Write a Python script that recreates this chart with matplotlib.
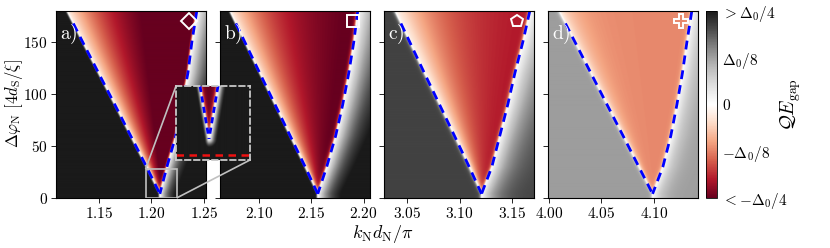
import numpy as np
import matplotlib
matplotlib.use("Agg")
import matplotlib.pyplot as plt
from mpl_toolkits.axes_grid1.inset_locator import mark_inset

plt.rcParams['mathtext.fontset'] = 'cm'
plt.rcParams['font.family'] = 'serif'
plt.rcParams['axes.linewidth'] = 0.8

# heights (in 4d_S/xi) at which the gap-closing edges were read
edge_y = [180, 150, 120, 90, 60, 30, 4]

# left / right edge of the topological (red) wedge, per panel
left_a = [1.1195, 1.1345, 1.1497, 1.1650, 1.1801, 1.1953, 1.2080]
right_a = [1.2432, 1.2385, 1.2347, 1.2290, 1.2232, 1.2147, 1.2080]
left_b = [2.0724, 2.0867, 2.1010, 2.1154, 2.1298, 2.1442, 2.1562]
right_b = [2.1943, 2.1905, 2.1857, 2.1800, 2.1733, 2.1647, 2.1562]
left_c = [3.0385, 3.0526, 3.0666, 3.0809, 3.0951, 3.1092, 3.1210]
right_c = [3.1670, 3.1603, 3.1527, 3.1460, 3.1384, 3.1308, 3.1210]
left_d = [4.0095, 4.0248, 4.0400, 4.0552, 4.0705, 4.0856, 4.0987]
right_d = [4.1361, 4.1314, 4.1271, 4.1219, 4.1161, 4.1085, 4.0987]

x_ranges = [(1.109, 1.252), (2.063, 2.206), (3.028, 3.171), (3.999, 4.142)]
x_ticks = [[1.15, 1.20, 1.25], [2.10, 2.15, 2.20], [3.05, 3.10, 3.15], [4.00, 4.05, 4.10]]

# gap levels (units of Delta_0)
bg_gap = [0.30, 0.30, 0.21, 0.128]        # trivial region far from the wedge
near_gap = [-0.03, -0.03, -0.015, -0.03]  # just inside the left edge
far_gap = [-0.32, -0.27, -0.21, -0.12]    # deep inside the wedge
fade_len = [0.05, 0.045, 0.042, 0.015]    # how fast it darkens from the left edge
glow_top = [0.021, 0.028, 0.026, 0.012]   # width of the white glow right of the wedge (top)
glow_bot = [0.008, 0.012, 0.012, 0.008]   # same at the bottom

labels = ['a)', 'b)', 'c)', 'd)']
markers = ['D', 's', 'p', 'P']
marker_size = [8, 8, 9, 10]

# zoomed inset of panel a
inset_xlim = (1.1944, 1.224)
inset_ylim = (0, 28)
inset_y = [28, 8]
inset_left = [1.2040, 1.2076]
inset_right = [1.2112, 1.2076]
inset_cut = 2.0

cbar_ticks = [-0.25, -0.125, 0, 0.125, 0.25]
cbar_labels = [r'$<-\Delta_0/4$', r'$-\Delta_0/8$', r'$0$', r'$\Delta_0/8$', r'$>\Delta_0/4$']


def gap_map(xlim, xl_pts, xr_pts, bg, near, far, fade, wtop, wbot, nx=450, ny=380):
    x = np.linspace(xlim[0], xlim[1], nx)
    y = np.linspace(0, 180, ny)
    X, Y = np.meshgrid(x, y)
    ys = edge_y[::-1]
    xl = np.interp(Y, ys, xl_pts[::-1])
    xr = np.interp(Y, ys, xr_pts[::-1])
    g = np.clip(Y / 180, 0.03, 1)
    seam = 0.0012
    d_in = np.clip(X - xl, 0, None)
    d_out_r = np.clip(X - xr, 0, None)
    d_out_l = np.clip(xl - X, 0, None)
    L = fade * g
    v_in = near + (far - near) * (1 - np.exp(-d_in / L))
    v_in *= (1 - np.exp(-d_in / seam)) * (1 - np.exp(-np.clip(xr - X, 0, None) / seam))
    v_left = bg * (1 - np.exp(-d_out_l / seam))
    wr = wbot + (wtop - wbot) * g
    v_right = bg * (1 - np.exp(-d_out_r / wr))
    return np.where(X < xl, v_left, np.where(X <= xr, v_in, v_right))


def inset_map(nx=300, ny=300):
    x = np.linspace(inset_xlim[0], inset_xlim[1], nx)
    y = np.linspace(inset_ylim[0], inset_ylim[1], ny)
    X, Y = np.meshgrid(x, y)
    xl = np.interp(Y, inset_y[::-1], inset_left[::-1])
    xr = np.interp(Y, inset_y[::-1], inset_right[::-1])
    dl = np.clip(xl - X, 0, None) / 0.0012
    dr = np.clip(X - xr, 0, None) / 0.0022
    dy = np.clip(inset_y[1] - Y, 0, None) / 2.2
    r = np.sqrt(dl ** 2 + dr ** 2 + dy ** 2)
    v_out = 0.3 * (1 - np.exp(-r ** 1.5))
    d_in = np.minimum(X - xl, xr - X)
    v_in = -0.25 * (1 - np.exp(-np.clip(d_in, 0, None) / 0.0006))
    inside = (X > xl) & (X < xr) & (Y > inset_y[1])
    return np.where(inside, v_in, v_out)


fig = plt.figure(figsize=(8.3, 2.48), dpi=100)
W, H = 830, 248
panel_left = [56, 220, 384, 548]
bottom = (H - 198) / H
height = 187 / H

lefts = [left_a, left_b, left_c, left_d]
rights = [right_a, right_b, right_c, right_d]
axes = []
for i in range(4):
    ax = fig.add_axes([panel_left[i] / W, bottom, 150 / W, height])
    Z = gap_map(x_ranges[i], lefts[i], rights[i], bg_gap[i], near_gap[i],
                far_gap[i], fade_len[i], glow_top[i], glow_bot[i])
    im = ax.imshow(Z, extent=[x_ranges[i][0], x_ranges[i][1], 0, 180], origin='lower',
                   aspect='auto', cmap='RdGy', vmin=-0.25, vmax=0.25, interpolation='bilinear')
    # edges of the topological region
    top_l = np.interp(168, edge_y[::-1], lefts[i][::-1])
    ax.plot([top_l] + lefts[i][1:], [168] + edge_y[1:], color='#0000ff', lw=2.0,
            dashes=(3.2, 2.2))
    ax.plot(rights[i], edge_y, color='#0000ff', lw=2.0, dashes=(3.2, 2.2))
    ax.set_xlim(x_ranges[i])
    ax.set_ylim(0, 180)
    ax.set_xticks(x_ticks[i], labels=[f'${t:.2f}$' for t in x_ticks[i]])
    ax.set_yticks([0, 50, 100, 150], labels=['$0$', '$50$', '$100$', '$150$'])
    ax.tick_params(labelsize=11, length=3.5, width=0.6, pad=2.5)
    if i > 0:
        ax.tick_params(labelleft=False)
    ax.text(0.025, 0.935, r'$\mathrm{' + labels[i] + '}$', transform=ax.transAxes,
            color='white', fontsize=14, ha='left', va='top')
    ax.plot([0.885], [0.948], marker=markers[i], ms=marker_size[i], mfc='none', mec='white',
            mew=1.4, transform=ax.transAxes, clip_on=False)
    axes.append(ax)

fig.text(14 / W, (H - 104) / H, r'$\Delta\varphi_{\rm N}\ [4d_{\rm S}/\xi]$', fontsize=12,
         rotation=90, ha='center', va='center')
fig.text(383 / W, (H - 234) / H, r'$k_{\rm N}d_{\rm N}/\pi$', fontsize=13,
         ha='center', va='center')

# inset zoom around the apex of panel a
axins = fig.add_axes([176 / W, (H - 160) / H, 74 / W, 74 / H])
axins.imshow(inset_map(), extent=[*inset_xlim, *inset_ylim], origin='lower', aspect='auto',
             cmap='RdGy', vmin=-0.25, vmax=0.25, interpolation='bilinear')
axins.plot(inset_left, inset_y, color='#0000ff', lw=2.0, dashes=(2.2, 1.6))
axins.plot(inset_right, inset_y, color='#0000ff', lw=2.0, dashes=(2.2, 1.6))
axins.axhline(inset_cut, color='#ee1111', lw=1.8, dashes=(3, 2.2))
axins.set_xlim(inset_xlim)
axins.set_ylim(inset_ylim)
axins.set_xticks([])
axins.set_yticks([])
for s in axins.spines.values():
    s.set_linestyle((0, (3, 2)))
    s.set_edgecolor('#c8c8c8')
    s.set_linewidth(1.3)
mark_inset(axes[0], axins, loc1=2, loc2=4, fc='none', ec='#c0c0c0', lw=1.2)

cax = fig.add_axes([706 / W, bottom, 11 / W, height])
cb = fig.colorbar(im, cax=cax, ticks=cbar_ticks)
cb.ax.set_yticklabels(cbar_labels)
cb.ax.tick_params(labelsize=11, length=0)
cb.outline.set_linewidth(0.6)
fig.text(791 / W, (H - 105) / H, r'$\mathcal{Q}E_{\rm gap}$', fontsize=14,
         rotation=90, ha='center', va='center')

fig.savefig('out.png', dpi=100)
